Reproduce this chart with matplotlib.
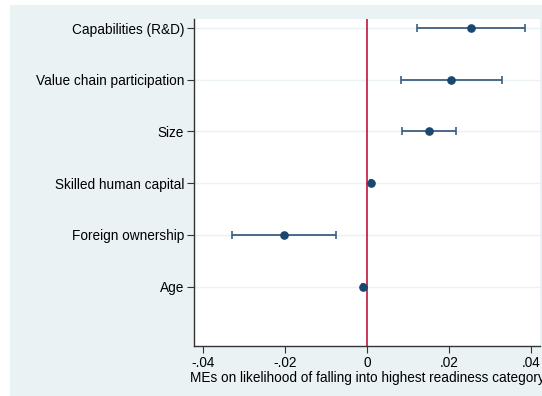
import matplotlib
matplotlib.use("Agg")
import matplotlib.pyplot as plt
from matplotlib.patches import Rectangle

categories = ["Capabilities (R&D)", "Value chain participation", "Size",
              "Skilled human capital", "Foreign ownership", "Age"]
estimates = [0.0252, 0.0205, 0.0150, 0.0009, -0.0202, -0.0010]
ci_low = [0.0122, 0.0082, 0.0085, 0.0007, -0.0329, -0.0012]
ci_high = [0.0384, 0.0329, 0.0217, 0.0011, -0.0075, -0.0008]
xticks = [-0.04, -0.02, 0, 0.02, 0.04]
xticklabels = ["-.04", "-.02", "0", ".02", ".04"]
xlabel = "MEs on likelihood of falling into highest readiness category"

plt.rcParams['font.family'] = ['Liberation Sans', 'DejaVu Sans']

W, H = 542, 396
fig = plt.figure(figsize=(W / 100, H / 100), dpi=100)
fig.patch.set_facecolor("white")
bg = Rectangle((10 / W, 0), 1 - 10 / W, 1 - 5 / H, transform=fig.transFigure,
               facecolor="#EAF2F3", edgecolor="none", zorder=-10)
fig.patches.append(bg)

left, right, top, bottom = 194, 540, 19, 346
ax = fig.add_axes([left / W, 1 - bottom / H, (right - left) / W, (bottom - top) / H])
ax.set_zorder(1)
ax.set_facecolor("white")

ypos = list(range(1, len(categories) + 1))
for y in ypos:
    ax.axhline(y, color="#EAF2F3", lw=1.0, zorder=1)
ax.axvline(0, color="#C0143C", lw=1.2, zorder=2)

navy = "#1a476f"
xerr = [[e - l for e, l in zip(estimates, ci_low)], [h - e for e, h in zip(estimates, ci_high)]]
ax.errorbar(estimates, ypos, xerr=xerr, fmt="o", color=navy, ecolor="#3b5f84",
            elinewidth=1.3, capsize=2.6, capthick=1.2, markersize=5.2, zorder=3)

ax.set_xlim(-0.0421, 0.0421)
ax.set_ylim(7.147, 0.826)
ax.set_yticks(ypos)
ax.set_yticklabels(categories, fontsize=9.8)
ax.set_xticks(xticks)
ax.set_xticklabels(xticklabels, fontsize=9.8)
ax.tick_params(axis="both", direction="out", length=5, width=0.8, color="#333333", pad=2)
ax.tick_params(axis="x", pad=2)

for s in ["top", "right"]:
    ax.spines[s].set_visible(False)
for s in ["left", "bottom"]:
    ax.spines[s].set_color("#333333")
    ax.spines[s].set_linewidth(1.0)

fig.text(190 / W, 1 - 378 / H, xlabel, fontsize=9.8, ha="left", va="center")

fig.savefig("out.png", dpi=100)
